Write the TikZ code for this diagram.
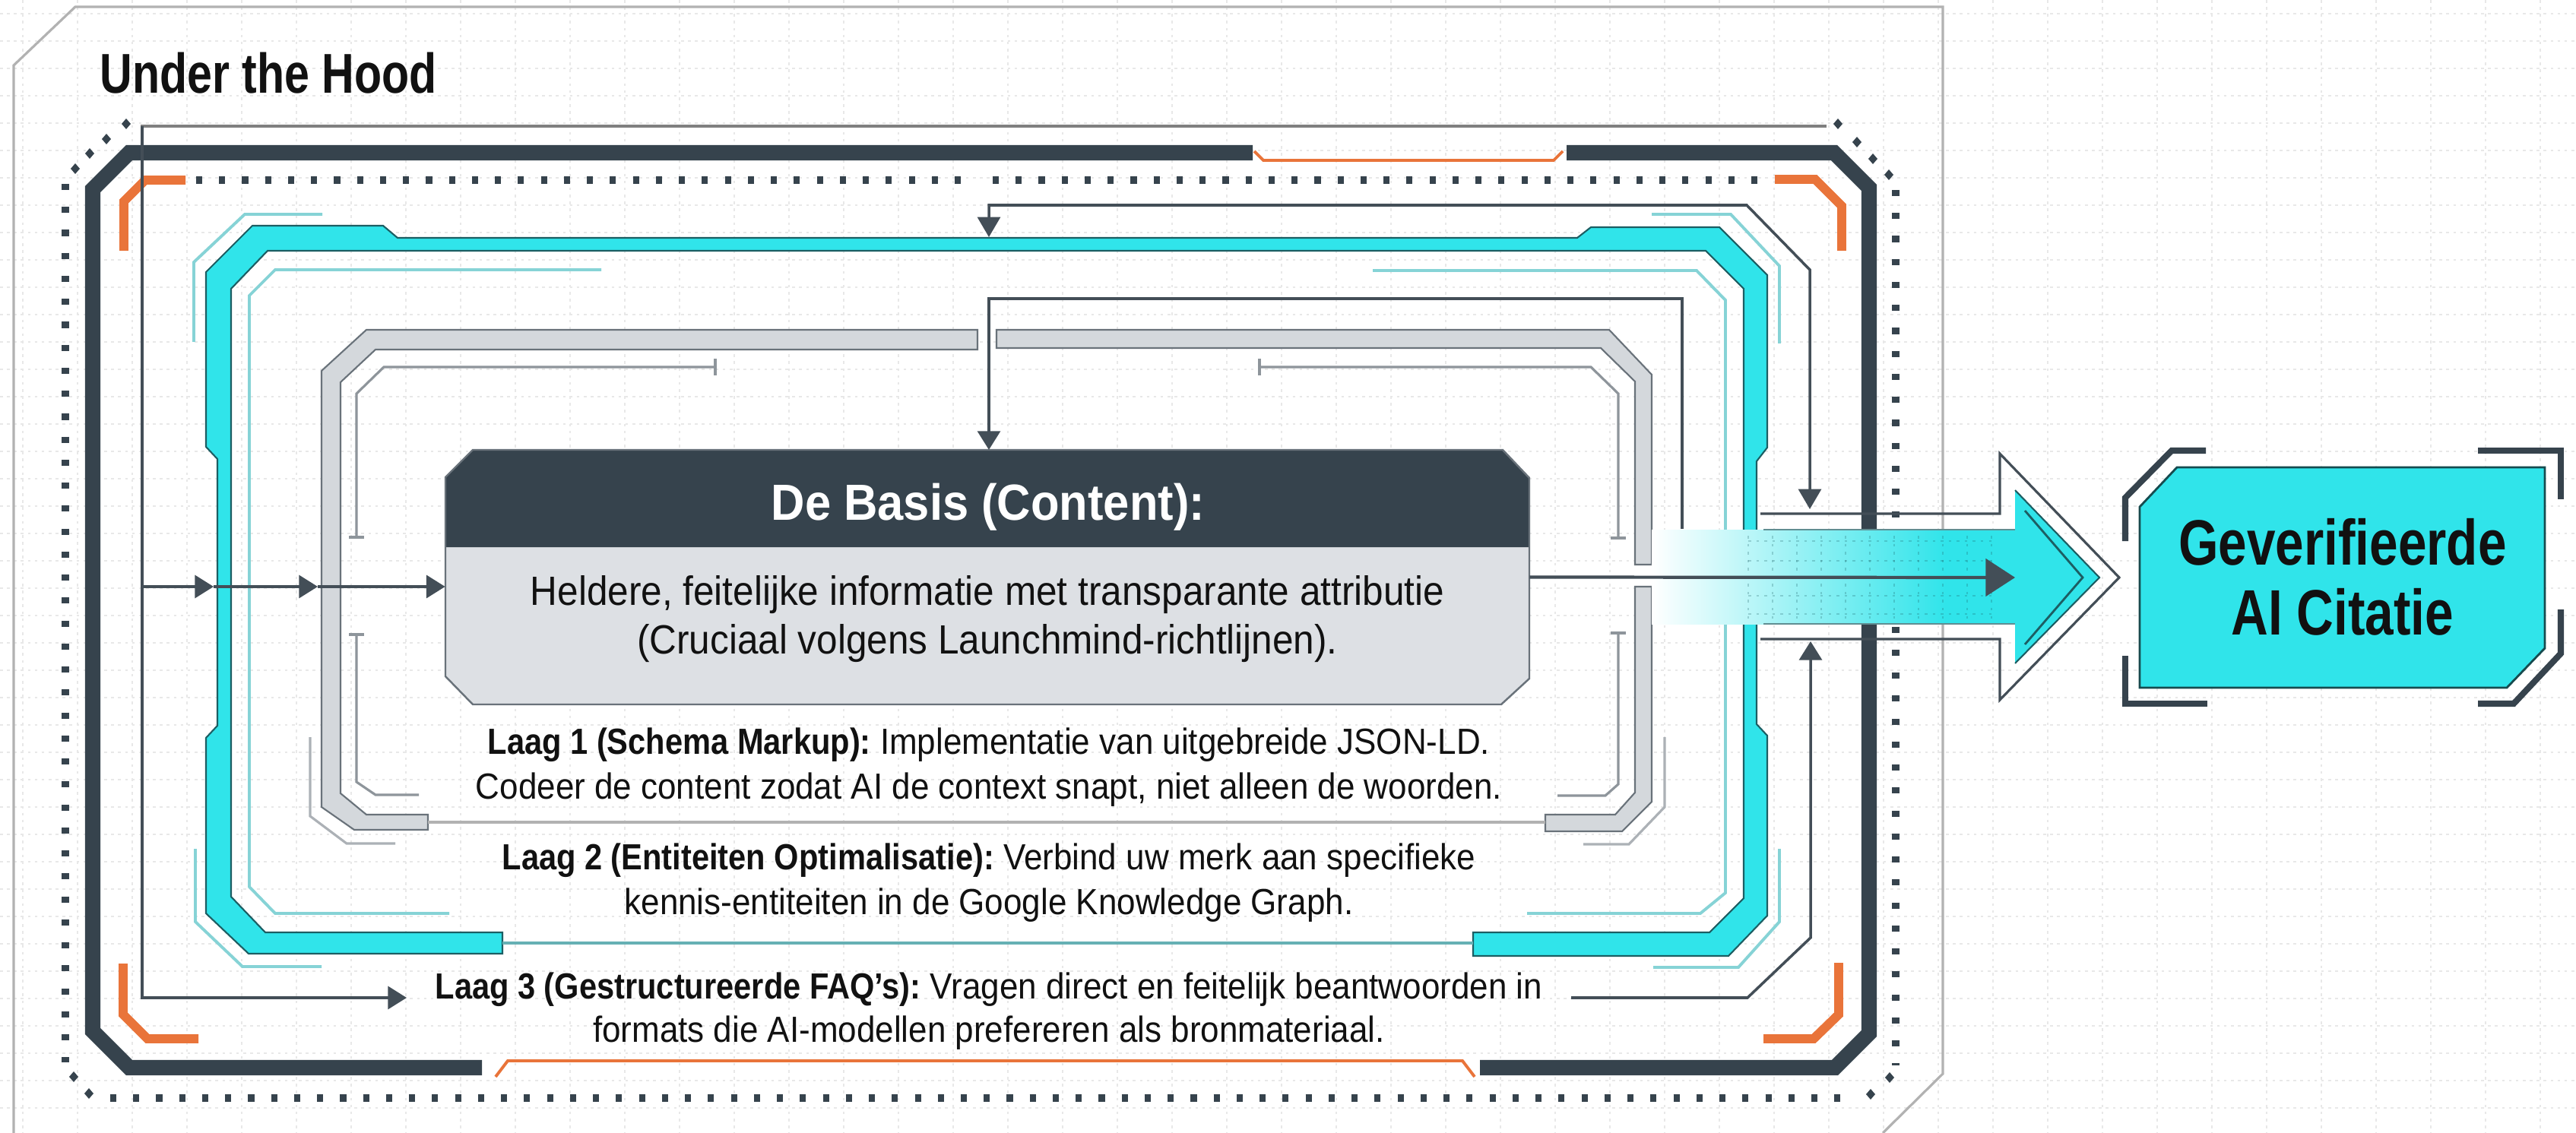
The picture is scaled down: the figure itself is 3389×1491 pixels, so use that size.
\documentclass[tikz,border=0pt]{standalone}
\usepackage{fontspec}
\setmainfont{Liberation Sans}
\newfontfamily\condfont[FakeStretch=0.8]{Liberation Sans}
\newfontfamily\txtfont[FakeStretch=0.92]{Liberation Sans}
\newfontfamily\bcondfont[FakeStretch=0.87]{Liberation Sans}
\newcommand{\lbold}[1]{{\bcondfont\bfseries #1}}
\usetikzlibrary{arrows.meta}
\definecolor{slate}{HTML}{36434D}
\definecolor{cyanb}{HTML}{30E4EA}
\definecolor{tealdk}{HTML}{1C5E63}
\definecolor{cyanl}{HTML}{86D3D6}
\definecolor{grayb}{HTML}{D4D8DC}
\definecolor{grayo}{HTML}{69727A}
\definecolor{orng}{HTML}{E9743A}
\definecolor{boxbody}{HTML}{DDE0E4}
\definecolor{linec}{HTML}{434E57}
\definecolor{ink}{HTML}{111111}
\tikzset{
  gridl/.style={draw=black!9, line width=0.4pt, dash pattern=on 1pt off 1.6pt},
  conn/.style={draw=linec, line width=1pt},
  arr/.style={-{Triangle[length=7pt,width=8.5pt]}},
  arrtwo/.style={{Triangle[length=7.5pt,width=8.5pt]}-{Triangle[length=7.5pt,width=8.5pt]}},
  bigarr/.style={-{Triangle[length=11pt,width=14pt]}},
  thinc/.style={draw=cyanl, line width=1.1pt},
  thing/.style={draw=grayo!75, line width=0.9pt},
  dotl/.style={draw=slate, line width=3.1pt, dash pattern=on 2.3pt off 6.3pt},
  orb/.style={draw=orng, line width=3.4pt, line join=miter},
  darkf/.style={draw=slate, line width=5.7pt, line join=miter},
  brk/.style={draw=slate, line width=2.3pt, line join=miter},
  txt/.style={inner sep=0pt, text=ink},
  lgfont/.style={font=\txtfont\fontsize{13.6}{16}\selectfont},
}
\begin{document}
\frenchspacing
\begin{tikzpicture}[x=0.01cm,y=-0.01cm]
\useasboundingbox (0,0) rectangle (3389,1491);
\fill[white] (0,0) rectangle (3389,1491);
% background grid
\foreach \gy in {18,54,...,1491} \draw[gridl] (0,\gy) -- (3389,\gy);
\foreach \gx in {30,102,...,3389} \draw[gridl] (\gx,0) -- (\gx,1491);
% panel
\draw[black!30, line width=0.9pt] (18,1491) -- (18,86) -- (99,9) -- (2556,9) -- (2556,1413) -- (2477,1491);
% title
\node[txt, anchor=base west, font=\condfont\bfseries\fontsize{21}{25}\selectfont] (title) at (131,123) {Under the Hood};

% outer dotted frame
\draw[black!50, line width=1.1pt] (185,166) -- (2403,166);
\draw[dotl] (86,242) -- (86,1398);
\draw[dotl] (145,1445) -- (2430,1445);
\draw[dotl] (2494,250) -- (2494,1402);
\foreach \dx/\dy in {166/163,140/183,118/202,99/222, 2418/163,2443/187,2464/209,2485/230, 97/1417,117/1439, 2486/1418,2461/1440}
  \fill[slate] (\dx,\dy) ++(0,-7) -- ++(6,7) -- ++(-6,7) -- ++(-6,-7) -- cycle;

% dark frame
\draw[darkf] (1648,201) -- (170,201) -- (122,249) -- (122,1357) -- (170,1405) -- (634,1405);
\draw[darkf] (1947,1405) -- (2414,1405) -- (2459,1360) -- (2459,247) -- (2413,201) -- (2061,201);
\draw[orng, line width=1.1pt] (1650,199) -- (1662,211) -- (2044,211) -- (2056,199);
\draw[orng, line width=1.1pt] (652,1417) -- (668,1396) -- (1924,1396) -- (1940,1417);

% inner dotted line and orange brackets
\draw[dotl] (258,237) -- (1275,237);
\draw[dotl] (1306,237) -- (2321,237);
\draw[orb] (244,237) -- (191,237) -- (163,265) -- (163,330);
\draw[orb] (2335,236) -- (2388,236) -- (2423,271) -- (2423,330);
\draw[orb] (162,1268) -- (162,1335) -- (194,1367) -- (261,1367);
\draw[orb] (2419,1267) -- (2419,1335) -- (2386,1367) -- (2320,1367);

% cyan band
\filldraw[fill=cyanb, draw=tealdk, line width=0.6pt, line join=miter]
 (661,1227) -- (349,1227) -- (304,1180) -- (304,380) -- (352,330) -- (2244,330) -- (2294,380) -- (2294,1182) -- (2249,1227) -- (1938,1227)
 -- (1938,1258) -- (2274,1258) -- (2325,1205) -- (2325,968) -- (2311,953) -- (2311,607) -- (2325,589) -- (2325,362) -- (2262,299)
 -- (2093,299) -- (2075,313) -- (523,313) -- (504,297) -- (332,297) -- (271,358) -- (271,588) -- (286,604) -- (286,955) -- (271,971)
 -- (271,1202) -- (327,1255) -- (661,1255) -- cycle;
\draw[cyanl!70!tealdk, line width=1.1pt] (661,1241) -- (1938,1241);
% thin cyan lines
\draw[thinc] (791,355) -- (362,355) -- (328,389) -- (328,1167) -- (362,1202) -- (591,1202);
\draw[thinc] (1806,356) -- (2232,356) -- (2270,395) -- (2270,1175) -- (2237,1202) -- (2009,1202);
\draw[thinc] (424,282) -- (322,282) -- (255,345) -- (255,450);
\draw[thinc] (2173,282) -- (2277,282) -- (2341,350) -- (2341,452);
\draw[thinc] (257,1117) -- (257,1213) -- (319,1272) -- (423,1272);
\draw[thinc] (2341,1117) -- (2341,1213) -- (2287,1273) -- (2175,1273);

% gray band
\filldraw[fill=grayb, draw=grayo, line width=0.6pt, line join=miter]
 (563,1072) -- (482,1072) -- (448,1044) -- (448,503) -- (494,460) -- (1286,460) -- (1286,434) -- (482,434) -- (423,488) -- (423,1062) -- (466,1092) -- (563,1092) -- cycle;
\filldraw[fill=grayb, draw=grayo, line width=0.6pt, line join=miter]
 (1311,434) -- (2117,434) -- (2173,493) -- (2173,743) -- (2151,743) -- (2151,502) -- (2106,458) -- (1311,458) -- cycle;
\filldraw[fill=grayb, draw=grayo, line width=0.6pt, line join=miter]
 (2173,772) -- (2173,1055) -- (2134,1094) -- (2033,1094) -- (2033,1072) -- (2125,1072) -- (2151,1043) -- (2151,772) -- cycle;
\draw[black!30, line width=0.9pt] (563,1082) -- (2033,1082);
% thin gray brackets
\draw[thing] (941,472) -- (941,494);
\draw[thing] (941,483) -- (505,483) -- (469,518) -- (469,707);
\draw[thing] (459,707) -- (479,707);
\draw[thing] (459,835) -- (479,835);
\draw[thing] (469,835) -- (469,1029) -- (494,1046) -- (551,1046);
\draw[thing] (1657,472) -- (1657,494);
\draw[thing] (1657,483) -- (2093,483) -- (2129,518) -- (2129,708);
\draw[thing] (2119,708) -- (2139,708);
\draw[thing] (2119,833) -- (2139,833);
\draw[thing] (2129,833) -- (2129,1032) -- (2112,1047) -- (2049,1047);
\draw[thing, draw=grayo!55] (408,970) -- (408,1074) -- (456,1110) -- (520,1110);
\draw[thing, draw=grayo!55] (2190,970) -- (2190,1062) -- (2143,1111) -- (2083,1111);

% content box
\node[inner sep=0pt, outer sep=0pt, minimum width=14.26cm, minimum height=3.35cm] (basis) at (1299,759.5) {};
\fill[boxbody] (586,720) -- (2012,720) -- (2012,893) -- (1975,927) -- (622,927) -- (586,890) -- cycle;
\fill[slate] (586,628) -- (622,592) -- (1977,592) -- (2012,629) -- (2012,720) -- (586,720) -- cycle;
\draw[grayo, line width=0.7pt, line join=miter] (586,628) -- (622,592) -- (1977,592) -- (2012,629) -- (2012,893) -- (1975,927) -- (622,927) -- (586,890) -- cycle;
\node[txt, anchor=base, text=white, font=\txtfont\bfseries\fontsize{19}{23}\selectfont] (hd) at (1300,684) {De Basis (Content):};
\node[txt, anchor=base, font=\txtfont\fontsize{15.3}{18}\selectfont] (b1) at (1299,796) {Heldere, feitelijke informatie met transparante attributie};
\node[txt, anchor=base, font=\txtfont\fontsize{15.3}{18}\selectfont] (b2) at (1299,860) {(Cruciaal volgens Launchmind-richtlijnen).};

% layer texts
\node[txt, anchor=base, lgfont] (l1a) at (1301,992) {\lbold{Laag 1 (Schema Markup):} Implementatie van uitgebreide JSON-LD.};
\node[txt, anchor=base, lgfont] (l1b) at (1301,1051) {Codeer de content zodat AI de context snapt, niet alleen de woorden.};
\node[txt, anchor=base, lgfont] (l2a) at (1301,1144) {\lbold{Laag 2 (Entiteiten Optimalisatie):} Verbind uw merk aan specifieke};
\node[txt, anchor=base, lgfont] (l2b) at (1301,1203) {kennis-entiteiten in de Google Knowledge Graph.};
\node[txt, anchor=base, lgfont] (l3a) at (1301,1314) {\lbold{Laag 3 (Gestructureerde FAQ’s):} Vragen direct en feitelijk beantwoorden in};
\node[txt, anchor=base, lgfont] (l3b) at (1301,1371) {formats die AI-modellen prefereren als bronmateriaal.};

% connectors
\coordinate (topL) at (187,166);
\coordinate (lv) at (187,772);
\coordinate (l3tip) at (535,1313);
\coordinate (m1) at (281,772);
\coordinate (m2) at (418,772);
\draw[conn, arr] (topL) |- (l3tip);
\draw[conn, arr] (lv) -- (m1);
\draw[conn, arr] (m1) -- (m2);
\draw[conn, arr] (m2) -- (lv -| basis.west);
\coordinate (c1) at (1301,393);
\draw[conn, arr] (2213,696) |- (c1) -- (c1 |- basis.north);
\coordinate (a1) at (1301,312);
\coordinate (a2) at (2381,670);
\draw[conn, arrtwo] (a1) -- (1301,270) -- (2298,270) -- (2381,355) -- (a2);
\coordinate (bt) at (2382,844);
\draw[conn, arr] (2067,1313) -- (2299,1313) -- (2382,1234) -- (bt);

% big arrow
\shade[left color=white, right color=cyanb] (2173,697) rectangle (2560,821);
\fill[cyanb] (2559,697) rectangle (2652,821);
\foreach \gx in {2300,2332,...,2620} \draw[tealdk, opacity=0.25, line width=0.5pt, dash pattern=on 1pt off 2pt] (\gx,705) -- (\gx,815);
\foreach \gy in {712,738,784,808} \draw[tealdk, opacity=0.25, line width=0.5pt, dash pattern=on 1pt off 2pt] (2300,\gy) -- (2620,\gy);
\draw[tealdk!70, line width=0.5pt] (2320,697) -- (2651,697);
\draw[tealdk!70, line width=0.5pt] (2320,821) -- (2651,821);
\fill[cyanb] (2651,645) -- (2762,760) -- (2651,873) -- cycle;
\draw[tealdk, line width=0.6pt] (2651,645) -- (2762,760) -- (2651,873);
\draw[tealdk, line width=0.8pt] (2664,672) -- (2740,760) -- (2664,848);
\draw[linec, line width=0.9pt, line join=miter] (2316,676) -- (2631,676) -- (2631,597) -- (2788,760) -- (2631,921) -- (2631,841) -- (2316,841);
\coordinate (mtip) at (2651,760);
\draw[conn, line width=1.2pt, bigarr] (basis.east) -- (mtip);

% output box
\node[inner sep=0pt, outer sep=0pt, minimum width=5.33cm, minimum height=2.9cm] (cit) at (3081.5,760) {};
\filldraw[fill=cyanb, draw=tealdk!80!black, line width=0.8pt, line join=miter] (2815,667) -- (2864,615) -- (3348,615) -- (3348,853) -- (3298,905) -- (2815,905) -- cycle;
\draw[brk] (2902,593) -- (2857,593) -- (2796,655) -- (2796,712);
\draw[brk] (3260,593) -- (3369,593) -- (3369,657);
\draw[brk] (2796,863) -- (2796,926) -- (2904,926);
\draw[brk] (3260,926) -- (3307,926) -- (3369,860) -- (3369,802);
\node[txt, anchor=base, font=\condfont\bfseries\fontsize{24}{28}\selectfont] (o1) at (3082,743) {Geverifieerde};
\node[txt, anchor=base, font=\condfont\bfseries\fontsize{24}{28}\selectfont] (o2) at (3082,835) {AI Citatie};
\end{tikzpicture}
\end{document}
